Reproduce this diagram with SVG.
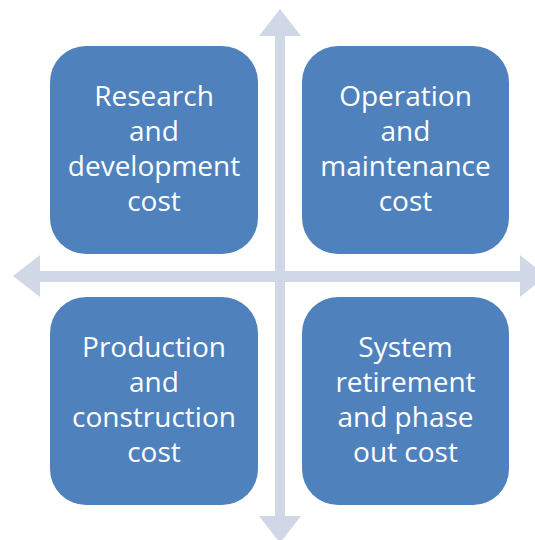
<svg xmlns="http://www.w3.org/2000/svg" width="535" height="540" viewBox="0 0 535 540">
<style>
.box{fill:#4F81BD;}
.arr{fill:#D0D8E8;}
.lbl{fill:#FFFFFF;font-family:"Open Sans","Liberation Sans",sans-serif;font-size:28px;text-anchor:middle;}
</style>
<rect width="535" height="540" fill="#FFFFFF"/>
<g id="connectors">
<path class="arr" d="M13,276 L40,255 L40,271 L275,271 L275,36 L259,36 L280,9 L301,36 L285,36 L285,271 L520,271 L520,255 L546,276 L520,297 L520,282 L285,282 L285,516 L301,516 L280,543 L259,516 L275,516 L275,282 L40,282 L40,297 Z"/>
</g>
<g id="node-rd">
<rect class="box" x="50" y="46" width="208" height="208" rx="36" ry="36"/>
<text class="lbl"><tspan x="154" y="106">Research</tspan><tspan x="154" y="141">and</tspan><tspan x="154" y="176">development</tspan><tspan x="154" y="211">cost</tspan></text>
</g>
<g id="node-om">
<rect class="box" x="302" y="46" width="207" height="208" rx="36" ry="36"/>
<text class="lbl"><tspan x="405.5" y="106">Operation</tspan><tspan x="405.5" y="141">and</tspan><tspan x="405.5" y="176">maintenance</tspan><tspan x="405.5" y="211">cost</tspan></text>
</g>
<g id="node-pc">
<rect class="box" x="50" y="297" width="208" height="208" rx="36" ry="36"/>
<text class="lbl"><tspan x="154" y="357">Production</tspan><tspan x="154" y="392">and</tspan><tspan x="154" y="427">construction</tspan><tspan x="154" y="462">cost</tspan></text>
</g>
<g id="node-sr">
<rect class="box" x="302" y="297" width="207" height="208" rx="36" ry="36"/>
<text class="lbl"><tspan x="405.5" y="357">System</tspan><tspan x="405.5" y="392">retirement</tspan><tspan x="405.5" y="427">and phase</tspan><tspan x="405.5" y="462">out cost</tspan></text>
</g>
</svg>
